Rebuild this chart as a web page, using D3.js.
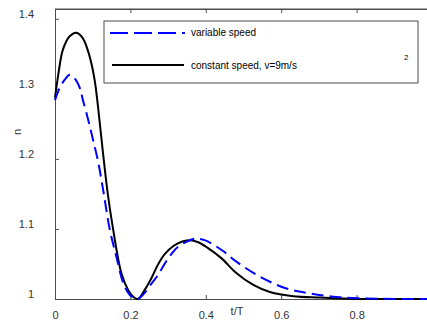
<!DOCTYPE html>
<html>
<head>
<meta charset="utf-8">
<script src="https://cdn.jsdelivr.net/npm/d3@7"></script>
<style>
  body { margin: 0; background: #fff; }
  svg { display: block; font-family: "Liberation Sans", Arial, sans-serif; }
</style>
</head>
<body>
<div id="chart"></div>
<script>
// data
var tVar = [0, 0.013, 0.026, 0.039, 0.052, 0.066, 0.074, 0.088, 0.101, 0.114, 0.127, 0.145, 0.163, 0.181, 0.198, 0.218,
            0.235, 0.256, 0.273, 0.3, 0.327, 0.35, 0.371, 0.397, 0.442, 0.482, 0.543, 0.614, 0.676, 0.747, 0.82, 0.9, 1.0];
var nVar = [1.284, 1.302, 1.313, 1.32, 1.315, 1.301, 1.284, 1.256, 1.227, 1.197, 1.158, 1.1, 1.06, 1.023, 1.006, 1.0,
            1.007, 1.022, 1.034, 1.058, 1.075, 1.082, 1.086, 1.084, 1.07, 1.053, 1.032, 1.015, 1.008, 1.003, 1.001, 1.0, 1.0];

var tConst = [0, 0.01, 0.021, 0.039, 0.057, 0.074, 0.092, 0.105, 0.114, 0.127, 0.14, 0.154, 0.176, 0.194, 0.208, 0.22,
              0.238, 0.256, 0.273, 0.291, 0.315, 0.338, 0.358, 0.38, 0.405, 0.442, 0.481, 0.526, 0.57, 0.632, 0.703, 0.8, 0.9, 1.0];
var nConst = [1.287, 1.325, 1.356, 1.375, 1.38, 1.372, 1.346, 1.313, 1.275, 1.21, 1.15, 1.1, 1.037, 1.013, 1.003, 1.0,
              1.013, 1.03, 1.049, 1.064, 1.076, 1.082, 1.084, 1.081, 1.073, 1.058, 1.037, 1.02, 1.01, 1.004, 1.002, 1.0, 1.0, 1.0];

var xTicks = [0, 0.2, 0.4, 0.6, 0.8, 1];
var yTicks = [1, 1.1, 1.2, 1.3, 1.4];
var legendLabels = ["variable speed", "constant speed, v=9m/s"];

var W = 427, H = 324;
var margin = { left: 55, top: 9, right: -5, bottom: 25 };
var pw = W - margin.left - margin.right;
var ph = H - margin.top - margin.bottom;

var svg = d3.select("#chart").append("svg")
  .attr("width", W).attr("height", H);

var g = svg.append("g")
  .attr("transform", "translate(" + margin.left + "," + margin.top + ")");

var x = d3.scaleLinear().domain([0, 1]).range([0, pw]);
var y = d3.scaleLinear().domain([1, 1.414]).range([ph, 0]);

// axes box
var axisColor = "#4d4d4d";
g.append("line").attr("x1", 0).attr("x2", pw).attr("y1", 0).attr("y2", 0)
  .style("stroke", axisColor);
g.append("line").attr("x1", pw).attr("x2", pw).attr("y1", 0).attr("y2", ph)
  .style("stroke", axisColor);

var xAxis = g.append("g")
  .attr("transform", "translate(0," + ph + ")")
  .call(d3.axisBottom(x).tickValues(xTicks).tickSizeInner(-4).tickSizeOuter(0).tickPadding(12)
    .tickFormat(d3.format("")));
var xTop = g.append("g")
  .call(d3.axisTop(x).tickValues(xTicks).tickSizeInner(-4).tickSizeOuter(0).tickFormat(""));
var yAxis = g.append("g")
  .call(d3.axisLeft(y).tickValues(yTicks).tickSizeInner(-4).tickSizeOuter(0).tickPadding(21)
    .tickFormat(d3.format("")));

[xAxis, xTop, yAxis].forEach(function (a) {
  a.select(".domain").style("stroke", axisColor);
  a.selectAll(".tick line").style("stroke", axisColor);
  a.selectAll("text").style("font-size", "11px").style("fill", "#333");
});
yAxis.selectAll("text").attr("dy", "-0.1em");

// the lines
var line = d3.line()
  .x(function (d) { return x(d[0]); })
  .y(function (d) { return y(d[1]); })
  .curve(d3.curveCatmullRom.alpha(0.5));

g.append("path")
  .datum(d3.zip(tConst, nConst))
  .attr("d", line)
  .style("fill", "none").style("stroke", "#000").style("stroke-width", 2);

g.append("path")
  .datum(d3.zip(tVar, nVar))
  .attr("d", line)
  .style("fill", "none").style("stroke", "#0000ff").style("stroke-width", 2)
  .style("stroke-dasharray", "12,6");

// axis titles
svg.append("text")
  .attr("x", 237).attr("y", 315)
  .attr("text-anchor", "middle")
  .style("font-size", "11px").style("fill", "#333")
  .text("t/T");
svg.append("text")
  .attr("transform", "translate(21,132) rotate(-90)")
  .attr("text-anchor", "middle")
  .style("font-size", "11px").style("fill", "#333")
  .text("n");

// legend
var leg = svg.append("g").attr("transform", "translate(104,21)");
leg.append("rect")
  .attr("width", 314).attr("height", 62)
  .style("fill", "#fff").style("stroke", axisColor);
leg.append("line").attr("x1", 6).attr("x2", 81).attr("y1", 12).attr("y2", 12)
  .style("stroke", "#0000ff").style("stroke-width", 2).style("stroke-dasharray", "18,6");
leg.append("line").attr("x1", 8).attr("x2", 80).attr("y1", 44).attr("y2", 44)
  .style("stroke", "#000").style("stroke-width", 2);
leg.selectAll("text.lab")
  .data(legendLabels)
  .enter().append("text")
  .attr("class", "lab")
  .attr("x", 87)
  .attr("y", function (d, i) { return i === 0 ? 15 : 48; })
  .style("font-size", "10px").style("fill", "#000")
  .text(function (d) { return d; });
leg.append("text")
  .attr("x", 300).attr("y", 39)
  .style("font-size", "8px").style("fill", "#000")
  .text("2");
</script>
</body>
</html>
